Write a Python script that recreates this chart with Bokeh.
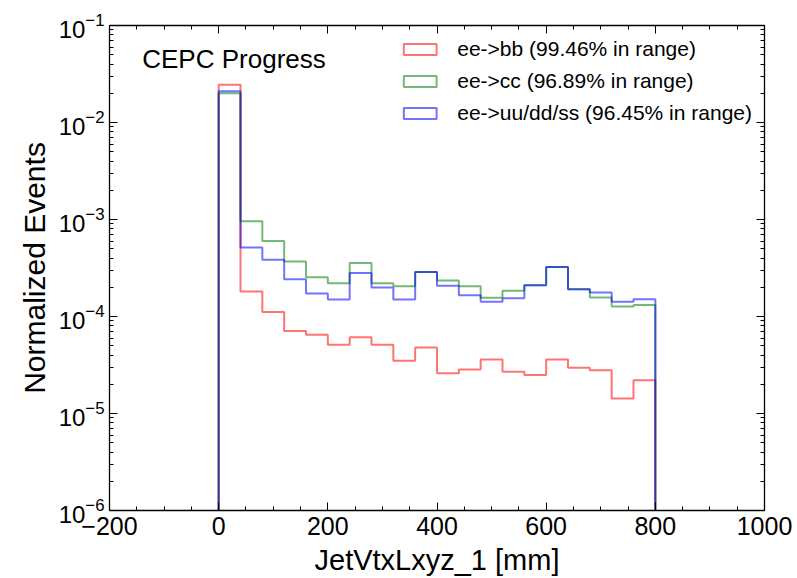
from bokeh.plotting import figure
from bokeh.models import (LinearAxis, Range1d, FixedTicker, Legend, LegendItem, Label,
                          LogTicker, CustomJSTickFormatter)
from bokeh.embed import file_html
from bokeh.resources import INLINE

# ---- data -------------------------------------------------------------
bin_edges = [0, 40, 80, 120, 160, 200, 240, 280, 320, 360, 400,
             440, 480, 520, 560, 600, 640, 680, 720, 760, 800]

ee_bb = [2.45e-2, 1.81e-4, 1.11e-4, 7.1e-5, 6.5e-5, 5.1e-5, 6.1e-5, 5.1e-5, 3.5e-5, 4.8e-5,
         2.6e-5, 2.85e-5, 3.6e-5, 2.7e-5, 2.5e-5, 3.6e-5, 2.97e-5, 2.8e-5, 1.43e-5, 2.2e-5]
ee_cc = [2.0e-2, 9.6e-4, 6.0e-4, 3.69e-4, 2.54e-4, 2.2e-4, 3.56e-4, 2.2e-4, 2.05e-4, 2.88e-4,
         2.35e-4, 2.05e-4, 1.56e-4, 1.84e-4, 2.1e-4, 3.24e-4, 1.91e-4, 1.57e-4, 1.27e-4, 1.31e-4]
ee_uds = [2.1e-2, 5.15e-4, 3.84e-4, 2.42e-4, 1.73e-4, 1.5e-4, 2.81e-4, 1.99e-4, 1.5e-4, 2.88e-4,
          2.07e-4, 1.66e-4, 1.42e-4, 1.54e-4, 2.1e-4, 3.24e-4, 1.91e-4, 1.77e-4, 1.42e-4, 1.51e-4]

series_labels = ["ee->bb (99.46% in range)",
                 "ee->cc (96.89% in range)",
                 "ee->uu/dd/ss (96.45% in range)"]
series_colors = ["#ff0000", "#008000", "#0000ff"]

x_ticks = [-200, 0, 200, 400, 600, 800, 1000]
x_minor = list(range(-200, 1001, 50))
FLOOR = 1e-8

FONT = "Liberation Sans"


def outline(edges, vals):
    xs, ys = [edges[0]], [FLOOR]
    for i, v in enumerate(vals):
        xs += [edges[i], edges[i + 1]]
        ys += [v, v]
    xs.append(edges[-1])
    ys.append(FLOOR)
    return xs, ys


p = figure(width=797, height=578, output_backend="svg", toolbar_location=None,
           y_axis_type="log", x_range=Range1d(-200, 1000), y_range=Range1d(1e-6, 1e-1),
           min_border_left=109, min_border_right=33, min_border_top=25, min_border_bottom=65)
p.background_fill_color = "white"
p.border_fill_color = "white"
p.outline_line_color = None
p.xgrid.visible = False
p.ygrid.visible = False

items = []
for vals, lab, col in zip([ee_bb, ee_cc, ee_uds], series_labels, series_colors):
    xs, ys = outline(bin_edges, vals)
    p.line(xs, ys, line_color=col, line_alpha=0.55, line_width=2)
    # legend proxy (hidden): outlined rectangle like matplotlib's step-hist patch
    q = p.quad(left=bin_edges[:1], right=bin_edges[1:2], top=vals[:1], bottom=[FLOOR],
               fill_alpha=0, line_color=col, line_alpha=0.55, line_width=2, visible=False)
    items.append(LegendItem(label=lab, renderers=[q]))

leg = Legend(items=items, location="top_right", border_line_color=None,
             background_fill_alpha=0, label_text_font=FONT, label_text_font_size="21px",
             glyph_width=41, glyph_height=14, label_standoff=17, spacing=8,
             margin=12, padding=4, label_text_color="black", click_policy="none",
             inactive_fill_alpha=0)
p.add_layout(leg)

blank = CustomJSTickFormatter(code="return ' ';")


def style_axis(ax):
    ax.axis_line_color = "black"
    ax.axis_line_width = 1.3
    ax.major_tick_in = 8
    ax.major_tick_out = 0
    ax.minor_tick_in = 4
    ax.minor_tick_out = 0
    ax.major_tick_line_color = "black"
    ax.minor_tick_line_color = "black"
    ax.major_label_text_font = FONT
    ax.major_label_text_color = "black"


xax = p.xaxis[0]
xax.ticker = FixedTicker(ticks=x_ticks, minor_ticks=x_minor)
style_axis(xax)
xax.major_label_text_font_size = "25px"
xax.major_label_standoff = 6
xax.axis_label = "JetVtxLxyz_1 [mm]"
xax.axis_label_text_font = FONT
xax.axis_label_text_font_size = "29px"
xax.axis_label_text_font_style = "normal"
xax.axis_label_text_color = "black"
xax.axis_label_standoff = 6

yax = p.yaxis[0]
yax.ticker = LogTicker(num_minor_ticks=10)
style_axis(yax)
yax.major_label_text_font_size = "24px"
yax.major_label_standoff = 5
yax.axis_label = "Normalized Events"
yax.axis_label_text_font = FONT
yax.axis_label_text_font_size = "30px"
yax.axis_label_text_font_style = "normal"
yax.axis_label_text_color = "black"
yax.axis_label_standoff = 5

top = LinearAxis(ticker=FixedTicker(ticks=x_ticks, minor_ticks=x_minor), formatter=blank)
style_axis(top)
top.major_label_text_font_size = "2px"
top.major_label_standoff = 0
p.add_layout(top, "above")

right = LinearAxis(ticker=LogTicker(num_minor_ticks=10), formatter=blank)
style_axis(right)
right.major_label_text_font_size = "2px"
right.major_label_standoff = 0
p.add_layout(right, "right")

p.add_layout(Label(x=-140, y=0.045, text="CEPC Progress", text_font=FONT,
                   text_font_size="26px", text_color="black", text_baseline="middle"))

open("out.html", "w").write(file_html(p, INLINE))
